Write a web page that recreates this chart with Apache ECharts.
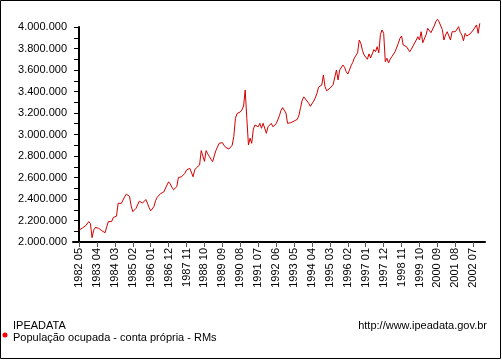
<!DOCTYPE html>
<html>
<head>
<meta charset="utf-8">
<script src="https://cdn.jsdelivr.net/npm/echarts@6/dist/echarts.min.js"></script>
<style>
html,body{margin:0;padding:0;background:#fff;}
#chart{width:502px;height:361px;}
</style>
</head>
<body>
<div id="chart"></div>
<script>
// Monthly series starting 1982 05 (index 0)
const startYear = 1982, startMonth = 5;
const values = [
2110,2112,2130,2148,2150,2165,2190,2170,2040,2110,2135,2132,2128,2118,2105,2095,2086,2142,2190,2205,
2190,2228,2235,2240,2360,2375,2360,2370,2420,2445,2453,2425,2335,2282,2300,2313,2313,2380,2397,2362,
2380,2395,2360,2320,2290,2275,2330,2385,2415,2430,2450,2455,2465,2480,2530,2560,2540,2510,2486,2500,
2514,2600,2615,2607,2623,2639,2670,2680,2686,2676,2607,2670,2690,2707,2716,2850,2862,2750,2850,2820,
2795,2770,2748,2800,2850,2885,2918,2920,2924,2900,2880,2862,2865,2868,2900,2980,3150,3195,3205,3210,
3230,3265,3414,3150,2902,2965,2918,3050,3088,3088,3072,3104,3058,3104,3088,3011,3072,3058,3104,3072,
3058,3100,3135,3175,3225,3250,3265,3200,3104,3119,3110,3104,3125,3115,3141,3180,3250,3320,3350,3330,
3318,3290,3262,3280,3310,3340,3380,3440,3450,3460,3553,3445,3407,3412,3430,3445,3465,3475,3600,3507,
3600,3615,3646,3625,3584,3563,3600,3640,3670,3712,3718,3760,3879,3848,3780,3740,3724,3700,3750,3712,
3700,3790,3770,3817,3760,3930,3972,3941,3677,3709,3665,3700,3724,3724,3770,3755,3848,3895,3916,3832,
3823,3817,3817,3770,3793,3823,3832,3879,3910,3879,3956,3854,3863,3926,3988,3975,3947,3935,4009,4049,
4072,4049,4040,3975,3879,3926,3956,3965,3879,3956,3956,3956,3960,4003,3950,3926,3872,3941,3916,3926,
3935,3947,3972,3988,4019,3941,4034
].map(v => v * 1000);

const tickLabels = ["1982 05","1983 04","1984 03","1985 02","1986 01","1986 12","1987 11","1988 10",
"1989 09","1990 08","1991 07","1992 06","1993 05","1994 04","1995 03","1996 02","1997 01","1997 12",
"1998 11","1999 10","2000 09","2001 08","2002 07"];

const yMin = 2000000, yMax = 4000000, yStep = 200000;
const seriesName = "População ocupada - conta própria - RMs";
const sourceName = "IPEADATA";
const url = "http://www.ipeadata.gov.br";

function monthLabel(i){
  const t = (startMonth - 1) + i;
  const y = startYear + Math.floor(t / 12);
  const m = (t % 12) + 1;
  return y + " " + (m < 10 ? "0" + m : "" + m);
}
const tickIdx = tickLabels.map(l => {
  const [y, m] = l.split(" ").map(Number);
  return (y - startYear) * 12 + (m - startMonth);
});
const seriesData = values.map((v, i) => [i, v]);

function fmt(v){
  return String(Math.round(v)).replace(/\B(?=(\d{3})+(?!\d))/g, ".");
}

const chart = echarts.init(document.getElementById('chart'), null, {renderer:'canvas'});
const font = 'Arial, "Liberation Sans", sans-serif';
chart.setOption({
  animation:false,
  backgroundColor:'#fff',
  grid:{left:73, right:17, top:27, bottom:119, containLabel:false},
  xAxis:{
    type:'value', min:-3.7, max:249.2,
    axisLine:{show:true, lineStyle:{color:'#000', width:2}},
    axisTick:{show:true, customValues:tickIdx, length:5, lineStyle:{color:'#555', width:1}},
    axisLabel:{show:true, customValues:tickIdx, rotate:90, margin:6, fontSize:11, color:'#000', fontFamily:font,
      formatter:(v)=>monthLabel(Math.round(v))},
    splitLine:{show:false}
  },
  yAxis:{
    type:'value', min:yMin, max:yMax, interval:yStep,
    axisLine:{show:true, lineStyle:{color:'#000', width:2}},
    axisTick:{show:true, length:5, lineStyle:{color:'#000'}},
    minorTick:{show:true, splitNumber:2, length:5, lineStyle:{color:'#000'}},
    axisLabel:{margin:6, fontSize:11, color:'#000', fontFamily:font, formatter:fmt},
    splitLine:{show:false}
  },
  series:[{
    name:seriesName, type:'line', data:seriesData, showSymbol:false, symbol:'none', clip:false,
    lineStyle:{color:'#d40000', width:1}, itemStyle:{color:'#d40000'}
  }],
  graphic:[
    {type:'rect', shape:{x:0.5, y:0.5, width:500, height:358}, style:{fill:null, stroke:'#000', lineWidth:1}, silent:true},
    {type:'text', left:13, top:320, style:{text:sourceName, font:'11px '+font, fill:'#000'}},
    {type:'text', left:13, top:332, style:{text:seriesName, font:'11px '+font, fill:'#000'}},
    {type:'circle', shape:{cx:5, cy:335, r:2.5}, style:{fill:'#ff0000'}},
    {type:'text', right:15, top:320, style:{text:url, font:'11px '+font, fill:'#000'}}
  ]
});
</script>
</body>
</html>
